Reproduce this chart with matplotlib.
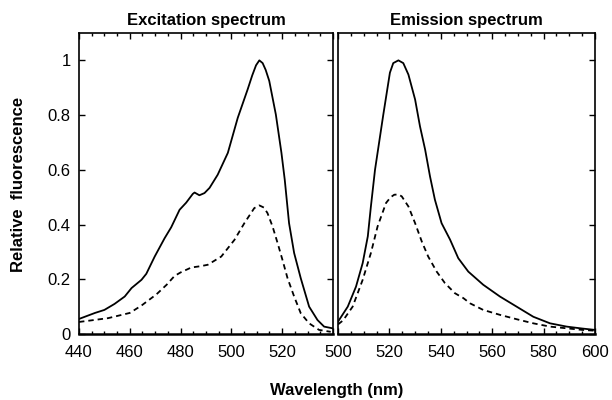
import matplotlib
matplotlib.use('Agg')
import matplotlib.pyplot as plt
from matplotlib.ticker import MultipleLocator

plt.rcParams['font.family'] = ['Liberation Sans', 'DejaVu Sans']

# excitation spectrum (nm, relative fluorescence)
ex_wl_solid = [440, 446.3, 450, 454, 458, 460.7, 464.6, 466.5, 469.8, 473.7, 476.3,
               479.6, 482.2, 484.8, 485.5, 487.4, 489.4, 491.4, 494.6, 498.6, 502.5,
               506.4, 508.2, 509.7, 511.0, 512.3, 513.5, 514.9, 517.5, 519.7, 521.0,
               522.7, 524.7, 527.3, 530.6, 533.9, 536.5, 539.7]
ex_solid = [0.055, 0.077, 0.088, 0.11, 0.137, 0.168, 0.198, 0.22, 0.283, 0.35, 0.39,
            0.454, 0.48, 0.512, 0.517, 0.507, 0.515, 0.534, 0.582, 0.662, 0.79,
            0.894, 0.945, 0.982, 1.0, 0.99, 0.965, 0.925, 0.802, 0.662, 0.564,
            0.405, 0.296, 0.204, 0.10, 0.051, 0.027, 0.021]

ex_wl_dash = [440, 445, 451.5, 460, 464.6, 470.5, 474.5, 477.6, 480, 484.2, 488,
              490.7, 496, 501.2, 505.1, 509, 511, 512.8, 514.2, 516.2, 518.2, 520.1,
              522.1, 524.7, 527.3, 530.6, 534.5, 539.1]
ex_dash = [0.044, 0.05, 0.058, 0.077, 0.104, 0.145, 0.18, 0.212, 0.225, 0.243, 0.248,
           0.253, 0.283, 0.344, 0.405, 0.46, 0.47, 0.462, 0.442, 0.393, 0.332, 0.271,
           0.204, 0.137, 0.076, 0.039, 0.015, 0.008]

# emission spectrum
em_wl_solid = [500, 503.8, 507, 509.6, 511.6, 512.8, 514.4, 517.6, 520.2, 521.5,
               523.5, 525.4, 527.4, 530, 531.9, 533.9, 535.8, 537.7, 540.3, 543.6,
               546.8, 550.7, 556.5, 563, 569.5, 576, 582.5, 589, 595, 600]
em_solid = [0.045, 0.10, 0.173, 0.259, 0.357, 0.466, 0.60, 0.80, 0.955, 0.99,
            1.0, 0.99, 0.948, 0.857, 0.759, 0.674, 0.576, 0.491, 0.405, 0.345,
            0.277, 0.228, 0.18, 0.137, 0.10, 0.063, 0.039, 0.027, 0.02, 0.015]

em_wl_dash = [500, 502, 505.7, 509.6, 512.8, 515.4, 518.7, 520.5, 521.9, 523.5,
              524.8, 527.4, 530, 532.6, 535.1, 538.4, 541.6, 545.5, 548.8, 551.4,
              556.5, 563, 569.5, 576, 582.5, 595, 600]
em_dash = [0.035, 0.05, 0.10, 0.198, 0.296, 0.393, 0.479, 0.50, 0.509, 0.51,
           0.503, 0.466, 0.405, 0.338, 0.283, 0.228, 0.186, 0.149, 0.131, 0.112,
           0.088, 0.07, 0.054, 0.039, 0.027, 0.015, 0.012]

ex_ticks = [440, 460, 480, 500, 520, 540]
ex_ticklabels = ['440', '460', '480', '500', '520', '']
em_ticks = [500, 520, 540, 560, 580, 600]
y_ticks = [0, 0.2, 0.4, 0.6, 0.8, 1]
y_ticklabels = ['0', '0.2', '0.4', '0.6', '0.8', '1']

fig = plt.figure(figsize=(6.12, 4), dpi=100)
ax1 = fig.add_axes([79 / 612, 66 / 400, 254 / 612, 301 / 400])
ax2 = fig.add_axes([338 / 612, 66 / 400, 257 / 612, 301 / 400])

for ax in (ax1, ax2):
    ax.set_ylim(0, 1.1)
    ax.set_yticks(y_ticks)
    ax.xaxis.set_minor_locator(MultipleLocator(5))
    ax.tick_params(which='both', direction='in', top=True, right=True,
                   labelsize=12, width=1)
    ax.tick_params(which='major', length=4.5)
    ax.tick_params(which='minor', length=2.5)
    ax.tick_params(axis='x', pad=8)
    ax.tick_params(axis='y', pad=6)
    for s in ax.spines.values():
        s.set_linewidth(1.2)
    ax.spines['bottom'].set_linewidth(1.8)

ax1.plot(ex_wl_solid, ex_solid, color='black', lw=1.3)
ax1.plot(ex_wl_dash, ex_dash, color='black', lw=1.3, ls=(0, (3, 2.2)))
ax1.set_xlim(440, 540)
ax1.set_xticks(ex_ticks)
ax1.set_xticklabels(ex_ticklabels)
ax1.set_yticklabels(y_ticklabels)
ax1.set_title('Excitation spectrum', fontsize=12, fontweight='bold', pad=6)

ax2.plot(em_wl_solid, em_solid, color='black', lw=1.3)
ax2.plot(em_wl_dash, em_dash, color='black', lw=1.3, ls=(0, (3, 2.2)))
ax2.set_xlim(500, 600)
ax2.set_xticks(em_ticks)
ax2.tick_params(axis='y', left=False, labelleft=False)
ax2.set_title('Emission spectrum', fontsize=12, fontweight='bold', pad=6)

fig.text(19 / 612, 1 - 184 / 400, 'Relative  fluorescence', rotation=90,
         ha='center', va='center', fontsize=12, fontweight='bold')
fig.text(337 / 612, 9 / 400, 'Wavelength (nm)', ha='center', va='center',
         fontsize=12, fontweight='bold')

fig.savefig('out.png', dpi=100)
